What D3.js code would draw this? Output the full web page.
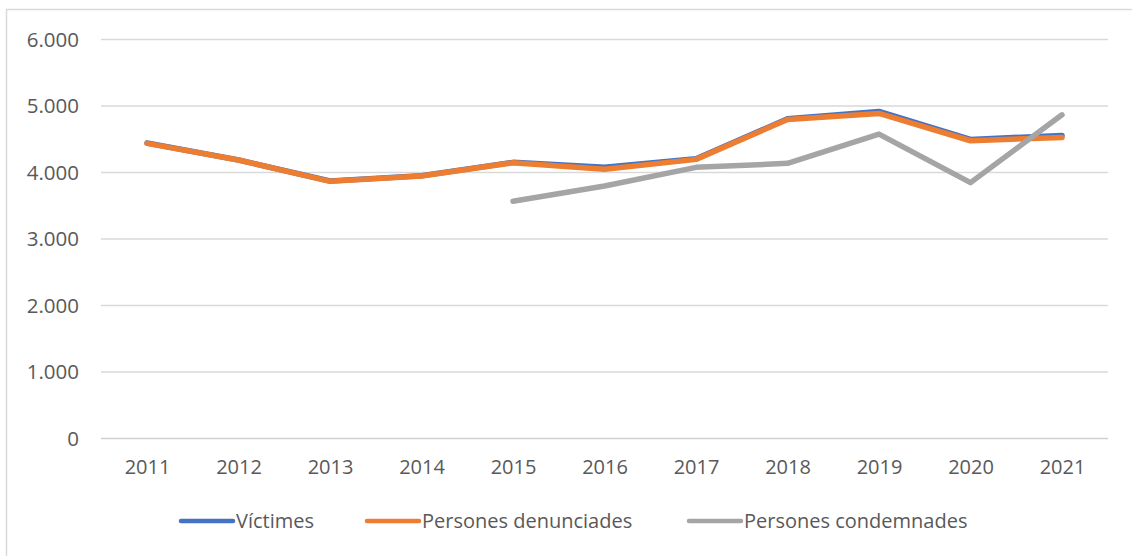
<!DOCTYPE html>
<html><head><meta charset="utf-8">
<script src="https://cdn.jsdelivr.net/npm/d3@7"></script>
<style>body{margin:0;background:#fff}svg{display:block}text{font-family:"Open Sans",Lato,sans-serif;fill:#595959}</style>
</head><body><svg id="c" width="1132" height="556"></svg>
<script>
const years = ["2011","2012","2013","2014","2015","2016","2017","2018","2019","2020","2021"];
const victimes = [4435,4180,3865,3945,4145,4070,4200,4800,4910,4490,4550];
const denunciades = [4430,4180,3860,3940,4140,4040,4190,4790,4880,4470,4520];
const condemnades = [null,null,null,null,3560,3790,4070,4130,4570,3840,4860];
const yTicks = [0,1000,2000,3000,4000,5000,6000];
const seriesNames = ["Víctimes","Persones denunciades","Persones condemnades"];
const colors = ["#4472C4","#ED7D31","#A5A5A5"];

const svg = d3.select("#c");
svg.append("rect").attr("x",6.5).attr("y",9.5).attr("width",1140).attr("height",560)
  .attr("fill","none").attr("stroke","#D9D9D9").attr("stroke-width",1.5);

const x = d3.scalePoint().domain(years).range([147,1062]);
const y = d3.scaleLinear().domain([0,6000]).range([438,39]);
const fmt = v => v===0 ? "0" : d3.format(",")(v).replace(/,/g,".");

svg.append("g").selectAll("line").data(yTicks).join("line")
  .attr("x1",101).attr("x2",1108).attr("y1",d=>y(d)+0.5).attr("y2",d=>y(d)+0.5)
  .attr("stroke",d=>d===0?"#D0D0D0":"#D9D9D9").attr("stroke-width",1.3);

const ya = svg.append("g").attr("transform","translate(79,0)")
  .call(d3.axisLeft(y).tickValues(yTicks).tickFormat(fmt).tickSize(0).tickPadding(0));
ya.select(".domain").remove();
ya.selectAll("text").style("font-size","20.5px").attr("fill","#595959").attr("dy","0.35em");

const xa = svg.append("g").attr("transform","translate(0,468)")
  .call(d3.axisBottom(x).tickSize(0).tickPadding(0));
xa.select(".domain").remove();
xa.selectAll("text").style("font-size","20px").attr("fill","#595959").attr("dy","0.3em");

const data = [victimes,denunciades,condemnades];
const line = d3.line().defined(d=>d.v!=null).x(d=>x(d.k)).y(d=>y(d.v));
data.forEach((s,i)=>{
  svg.append("path").datum(years.map((k,j)=>({k,v:s[j]})))
    .attr("d",line).attr("fill","none").attr("stroke",colors[i])
    .attr("stroke-width",i===0?5.5:5.5).attr("stroke-linecap","round").attr("stroke-linejoin","round");
});

const legX = [181,367,689];
seriesNames.forEach((n,i)=>{
  svg.append("line").attr("x1",legX[i]).attr("x2",legX[i]+52).attr("y1",521).attr("y2",521)
    .attr("stroke",colors[i]).attr("stroke-width",4.5).attr("stroke-linecap","round");
  svg.append("text").attr("x",legX[i]+55).attr("y",521).attr("dy","0.35em")
    .style("font-size","20px").text(n);
});
</script></body></html>
